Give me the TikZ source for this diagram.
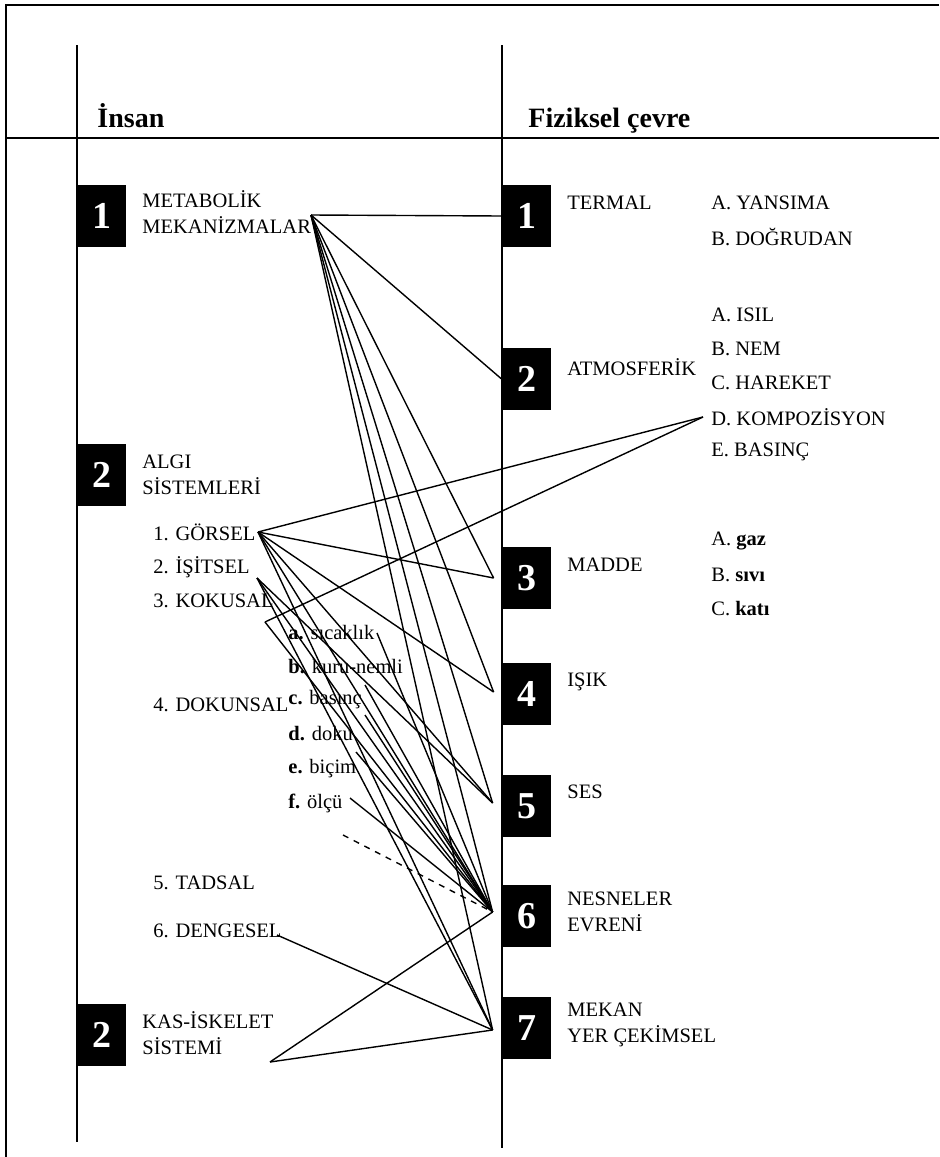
\documentclass[tikz,border=0pt]{standalone}
\usepackage{fontspec}
\setmainfont{Liberation Serif}
\tikzstyle{numbox}=[fill=black, text=white, minimum width=24.5pt, minimum height=31pt, inner sep=0, font=\fontsize{19}{19}\selectfont\bfseries]
\tikzstyle{entry}=[anchor=west, inner sep=0, align=left, font=\fontsize{10.25}{12.75}\selectfont]
\tikzstyle{heading}=[anchor=base west, inner sep=0, font=\fontsize{14}{16}\selectfont\bfseries]
\tikzstyle{frameline}=[line width=0.7pt]
\tikzstyle{link}=[line width=0.7pt]

\begin{document}
\begin{tikzpicture}[x=0.5pt, y=-0.5pt]
    \useasboundingbox (0, 0) rectangle (939, 1157);
    \draw[frameline] (939, 5) -- (6, 5) -- (6, 1157);
    \draw[frameline] (6, 138) -- (939, 138);
    \draw[frameline] (77, 45) -- (77, 1142);
    \draw[frameline] (502, 45) -- (502, 1148);

    \node[heading] (insan) at (97, 127) {İnsan};
    \node[heading] (cevre) at (528, 127) {Fiziksel çevre};

    \node[numbox] (box_l1) at (101.5, 216) {1};
    \node[numbox] (box_l2) at (101.5, 475) {2};
    \node[numbox] (box_l3) at (101.5, 1035) {2};
    \node[entry] (metabolik) at (142, 212) {METABOLİK\\MEKANİZMALAR};
    \node[entry] (algi) at (142, 475) {ALGI\\SİSTEMLERİ};
    \node[entry] (kas) at (142, 1033) {KAS-İSKELET\\SİSTEMİ};

    \node[entry] (gorsel) at (153, 532) {1. GÖRSEL};
    \node[entry] (isitsel) at (153, 567) {2. İŞİTSEL};
    \node[entry] (kokusal) at (153, 601) {3. KOKUSAL};
    \node[entry] (dokunsal) at (153, 705) {4. DOKUNSAL};
    \node[entry] (tadsal) at (153, 883) {5. TADSAL};
    \node[entry] (dengesel) at (153, 931) {6. DENGESEL};

    \node[entry] (sicaklik) at (288, 633) {\textbf{a.} sıcaklık};
    \node[entry] (kurunemli) at (288, 667) {\textbf{b.} kuru-nemli};
    \node[entry] (basinc) at (288, 700) {\textbf{c.} basınç};
    \node[entry] (doku) at (288, 734) {\textbf{d.} doku};
    \node[entry] (bicim) at (288, 769) {\textbf{e.} biçim};
    \node[entry] (olcu) at (288, 803) {\textbf{f.} ölçü};

    \node[numbox] (box_r1) at (526.5, 216) {1};
    \node[numbox] (box_r2) at (526.5, 379) {2};
    \node[numbox] (box_r3) at (526.5, 578) {3};
    \node[numbox] (box_r4) at (526.5, 694) {4};
    \node[numbox] (box_r5) at (526.5, 806) {5};
    \node[numbox] (box_r6) at (526.5, 916) {6};
    \node[numbox] (box_r7) at (526.5, 1028) {7};
    \node[entry] (termal) at (567, 203) {TERMAL};
    \node[entry] (atmosferik) at (567, 367) {ATMOSFERİK};
    \node[entry] (madde) at (567, 565) {MADDE};
    \node[entry] (isik) at (567, 682) {IŞIK};
    \node[entry] (ses) at (567, 792) {SES};
    \node[entry] (nesneler) at (567, 912) {NESNELER\\EVRENİ};
    \node[entry] (mekan) at (567, 1025) {MEKAN\\YER ÇEKİMSEL};

    \node[entry] (yansima) at (711, 203) {A. YANSIMA};
    \node[entry] (dogrudan) at (711, 237) {B. DOĞRUDAN};
    \node[entry] (isil) at (711, 315) {A. ISIL};
    \node[entry] (nem) at (711, 349) {B. NEM};
    \node[entry] (hareket) at (711, 383) {C. HAREKET};
    \node[entry] (kompozisyon) at (711, 417) {D. KOMPOZİSYON};
    \node[entry] (basinc_r) at (711, 452) {E. BASINÇ};
    \node[entry] (gaz) at (711, 541) {A. \textbf{gaz}};
    \node[entry] (sivi) at (711, 575) {B. \textbf{sıvı}};
    \node[entry] (kati) at (711, 609) {C. \textbf{katı}};

    \coordinate (m_out) at (311, 215);
    \coordinate (g_out) at (258, 532);
    \coordinate (i_out) at (257, 578);
    \coordinate (k_out) at (265, 622);
    \coordinate (komp_in) at ([xshift=-4pt]kompozisyon.west);
    \coordinate (a_out) at (377, 633);
    \coordinate (c_out) at (365, 685);
    \coordinate (d_out) at (365, 715);
    \coordinate (e_out) at (356, 752);
    \coordinate (f_out) at (350, 798);
    \coordinate (dash_out) at (343, 835);
    \coordinate (den_out) at (277, 935);
    \coordinate (kas_out) at (270, 1062);
    \coordinate (r1_in) at (box_r1.west);
    \coordinate (r2_in) at (box_r2.west);
    \coordinate (r3_in) at ([xshift=-4pt]box_r3.west);
    \coordinate (r4_in) at ([xshift=-4pt, yshift=1pt]box_r4.west);
    \coordinate (r5_in) at ([xshift=-4.5pt, yshift=1.5pt]box_r5.west);
    \coordinate (r6_in) at ([xshift=-4.5pt, yshift=2pt]box_r6.west);
    \coordinate (r7_in) at ([xshift=-4.5pt, yshift=-1pt]box_r7.west);

    \draw[link] (m_out) -- (r1_in);
    \draw[link] (m_out) -- (r2_in);
    \draw[link] (m_out) -- (r3_in);
    \draw[link] (m_out) -- (r4_in);
    \draw[link] (m_out) -- (r5_in);
    \draw[link] (m_out) -- (r6_in);
    \draw[link] (m_out) -- (r7_in);

    \draw[link] (g_out) -- (komp_in);
    \draw[link] (g_out) -- (r3_in);
    \draw[link] (g_out) -- (r4_in);
    \draw[link] (g_out) -- (r5_in);
    \draw[link] (g_out) -- (r6_in);
    \draw[link] (g_out) -- (r7_in);

    \draw[link] (i_out) -- (r5_in);
    \draw[link] (i_out) -- (r6_in);
    \draw[link] (i_out) -- (r7_in);

    \draw[link] (k_out) -- (komp_in);
    \draw[link] (k_out) -- (r6_in);

    \draw[link] (a_out) -- (r6_in);
    \draw[link] (c_out) -- (r6_in);
    \draw[link] (d_out) -- (r6_in);
    \draw[link] (e_out) -- (r6_in);
    \draw[link] (f_out) -- (r6_in);
    \draw[link, dashed] (dash_out) -- (r6_in);

    \draw[link] (den_out) -- (r7_in);
    \draw[link] (kas_out) -- (r6_in);
    \draw[link] (kas_out) -- (r7_in);
\end{tikzpicture}
\end{document}
